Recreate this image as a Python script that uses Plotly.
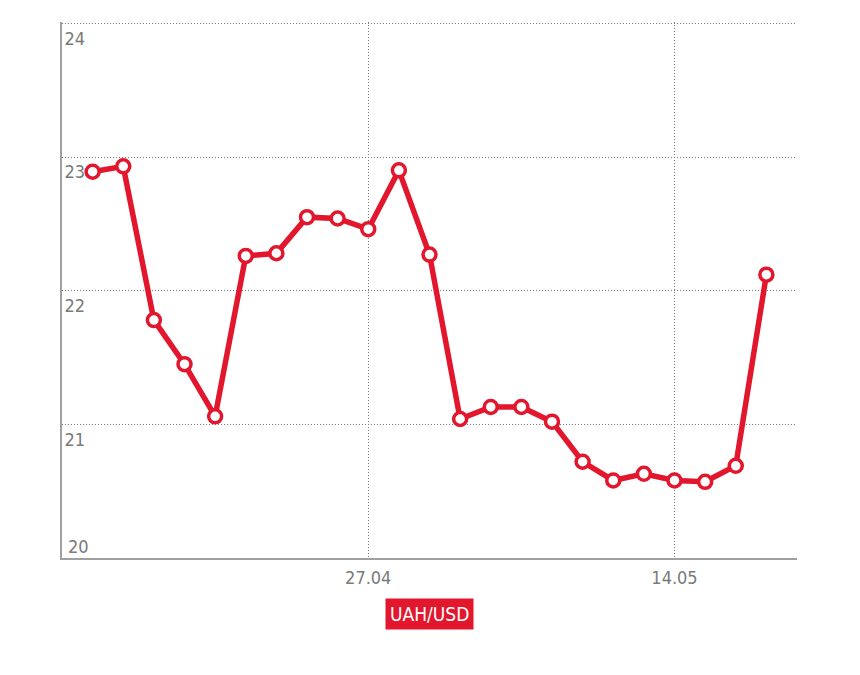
import plotly.graph_objects as go

dates = ["14.04", "15.04", "16.04", "17.04", "20.04", "21.04", "22.04", "23.04", "24.04",
         "27.04", "28.04", "29.04", "30.04", "05.05", "06.05", "07.05", "08.05", "12.05",
         "13.05", "14.05", "15.05", "18.05", "19.05"]
rate = [22.89, 22.93, 21.78, 21.45, 21.06, 22.26, 22.28, 22.55, 22.54, 22.46, 22.90, 22.27,
        21.04, 21.13, 21.13, 21.02, 20.72, 20.58, 20.63, 20.58, 20.57, 20.69, 22.12]
x_ticks = ["27.04", "14.05"]
y_ticks_main = [21, 22, 23, 24]
y_tick_bottom = [20]
series_name = "UAH/USD"

RED = "#e2162c"
GRAY = "#7a7a7a"
GRID = "#7c7c7c"
FONT = "Liberation Sans Narrow, DejaVu Sans Condensed, Arial Narrow, sans-serif"

fig = go.Figure()
fig.add_trace(go.Scatter(
    x=dates, y=rate, mode="lines+markers", name=series_name,
    line=dict(color=RED, width=5.5),
    marker=dict(size=13, color="white", line=dict(color=RED, width=3.5)),
    showlegend=False,
))
fig.add_trace(go.Scatter(x=[dates[0]], y=[None], yaxis="y2", showlegend=False, hoverinfo="skip"))

yr = [20, 24.01]
fig.update_layout(
    width=860, height=675,
    margin=dict(l=54, r=71, t=14, b=125),
    paper_bgcolor="white", plot_bgcolor="white",
    font=dict(family=FONT, color=GRAY, size=18),
    xaxis=dict(
        type="category", range=[-1, len(dates)], tickvals=x_ticks, ticktext=x_ticks,
        showgrid=True, gridcolor=GRID, griddash="1px,2px", gridwidth=1,
        showline=True, linecolor="#a0a0a0", linewidth=2, ticks="", zeroline=False,
        tickfont=dict(size=18, color=GRAY), ticklabelstandoff=2, automargin=False,
    ),
    yaxis=dict(
        range=yr, tickvals=y_ticks_main,
        showgrid=True, gridcolor=GRID, griddash="1px,2px", gridwidth=1,
        showline=True, linecolor="#a0a0a0", linewidth=2, ticks="", zeroline=False,
        ticklabelposition="inside", ticklabelshift=15, ticklabelstandoff=3,
        tickfont=dict(size=18, color=GRAY), automargin=False,
    ),
    yaxis2=dict(
        range=yr, tickvals=y_tick_bottom, overlaying="y", side="left",
        showgrid=False, showline=False, ticks="", zeroline=False,
        ticklabelposition="inside", ticklabelshift=-11, ticklabelstandoff=3,
        tickfont=dict(size=18, color=GRAY), automargin=False,
    ),
    annotations=[dict(
        text=series_name, xref="paper", yref="paper", x=0.5, y=-0.1045,
        xanchor="center", yanchor="middle", showarrow=False,
        bgcolor=RED, font=dict(color="white", size=19, family=FONT),
        borderpad=4,
    )],
)

fig.write_html("out.html")
